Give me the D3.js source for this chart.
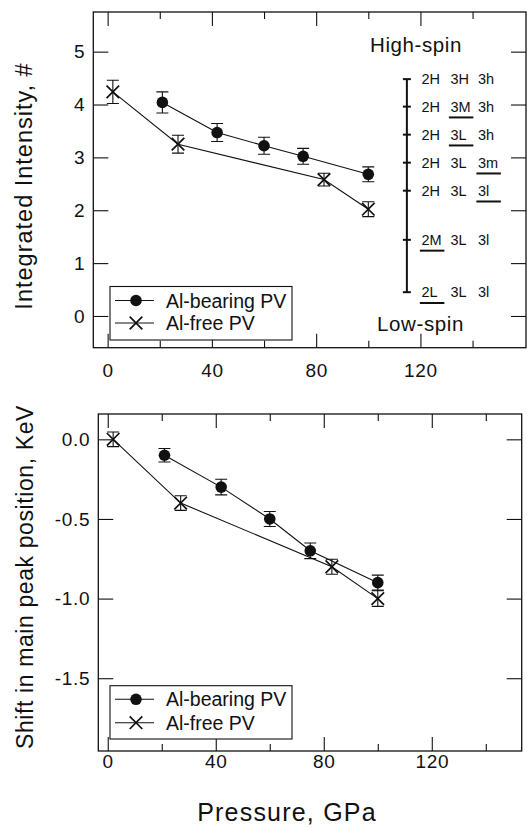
<!DOCTYPE html>
<html>
<head>
<meta charset="utf-8">
<script src="https://cdn.jsdelivr.net/npm/d3@7"></script>
<style>
  body { margin: 0; background: #fff; }
  svg { display: block; }
  text { font-family: "Liberation Sans", Arial, Helvetica, sans-serif; fill: #111; }
</style>
</head>
<body>
<svg id="chart" width="527" height="828"></svg>
<script>
// top panel: integrated intensity
const pressureAlBearing = [21, 42, 60, 75, 100];
const intensityAlBearing = [4.04, 3.47, 3.22, 3.02, 2.68];
const intensityAlBearingErr = [0.2, 0.17, 0.16, 0.15, 0.14];
const pressureAlFree = [2, 27, 83, 100];
const intensityAlFree = [4.24, 3.25, 2.58, 2.02];
const intensityAlFreeErr = [0.22, 0.17, 0.12, 0.14];

// bottom panel: shift in main peak position
const shiftAlBearing = [-0.1, -0.3, -0.5, -0.7, -0.9];
const shiftAlBearingErr = [0.042, 0.049, 0.047, 0.049, 0.047];
const shiftAlFree = [0, -0.4, -0.8, -1.0];
const shiftAlFreeErr = [0.046, 0.046, 0.047, 0.049];

// spin-state scale drawn inside the top panel
const spinLevels = [4.48, 3.96, 3.43, 2.9, 2.37, 1.44, 0.45];
const spinLabels = [
  ['2H', '3H', '3h'],
  ['2H', '3M', '3h'],
  ['2H', '3L', '3h'],
  ['2H', '3L', '3m'],
  ['2H', '3L', '3l'],
  ['2M', '3L', '3l'],
  ['2L', '3L', '3l'],
];
const spinUnderlined = [-1, 1, 1, 2, 2, 0, 0];

const xMajorTicks = [0, 40, 80, 120];
const xMinorTicks = [20, 60, 100, 140];
const intensityTicks = [0, 1, 2, 3, 4, 5];
const shiftTicks = [0, -0.5, -1.0, -1.5];
const seriesNames = ['Al-bearing PV', 'Al-free PV'];

const INK = '#111';
const svg = d3.select('#chart');

function drawCircle(g, cx, cy) {
  g.append('circle').attr('cx', cx).attr('cy', cy).attr('r', 5.8).attr('fill', INK);
}

function drawCross(g, cx, cy) {
  const s = 6.3;
  g.append('path')
    .attr('d', `M${cx - s},${cy - s}L${cx + s},${cy + s}M${cx - s},${cy + s}L${cx + s},${cy - s}`)
    .attr('stroke', INK).attr('stroke-width', 1.7).attr('fill', 'none');
}

function drawSeries(g, x, y, xs, ys, errs, marker) {
  const line = d3.line().x((d, i) => x(xs[i])).y((d) => y(d));
  g.append('path').attr('d', line(ys))
    .attr('fill', 'none').attr('stroke', INK).attr('stroke-width', 1.1);
  ys.forEach((v, i) => {
    const px = x(xs[i]);
    const y0 = y(v - errs[i]);
    const y1 = y(v + errs[i]);
    g.append('path')
      .attr('d', `M${px},${y0}V${y1}M${px - 6},${y0}H${px + 6}M${px - 6},${y1}H${px + 6}`)
      .attr('stroke', INK).attr('stroke-width', 1.1).attr('fill', 'none');
    marker(g, px, y(v));
  });
}

function drawLegend(g, box) {
  g.append('rect')
    .attr('x', box.x).attr('y', box.y).attr('width', box.w).attr('height', box.h)
    .attr('fill', '#fff').attr('stroke', INK).attr('stroke-width', 1.1);
  [drawCircle, drawCross].forEach((marker, i) => {
    const cy = box.y + box.row0 + i * box.rowStep;
    g.append('line')
      .attr('x1', box.x + 5).attr('x2', box.x + 44).attr('y1', cy).attr('y2', cy)
      .attr('stroke', INK).attr('stroke-width', 1.1);
    marker(g, box.x + 26, cy);
    g.append('text')
      .attr('x', box.x + 56).attr('y', cy).attr('dy', '0.36em')
      .attr('font-size', 19.5)
      .text(seriesNames[i]);
  });
}

function drawPanel(cfg) {
  const x = d3.scaleLinear().domain(cfg.xDomain).range([cfg.left, cfg.right]);
  const y = d3.scaleLinear().domain(cfg.yDomain).range([cfg.bottom, cfg.top]);
  const g = svg.append('g');

  const styleAxis = (sel) => {
    sel.attr('font-size', null).attr('font-family', null);
    sel.select('.domain').remove();
    sel.selectAll('line').attr('stroke', INK).attr('stroke-width', 1.1);
    sel.selectAll('text').attr('font-size', 19).attr('letter-spacing', '0.7px').attr('fill', INK);
  };

  g.append('g').attr('transform', `translate(0,${cfg.bottom})`)
    .call(d3.axisBottom(x).tickValues(xMajorTicks).tickSize(-14).tickPadding(cfg.xPad))
    .call(styleAxis);
  g.append('g').attr('transform', `translate(0,${cfg.bottom})`)
    .call(d3.axisBottom(x).tickValues(xMinorTicks).tickSize(-7).tickFormat(''))
    .call(styleAxis);
  g.append('g').attr('transform', `translate(0,${cfg.top})`)
    .call(d3.axisTop(x).tickValues(xMajorTicks).tickSize(-14).tickFormat(''))
    .call(styleAxis);
  g.append('g').attr('transform', `translate(0,${cfg.top})`)
    .call(d3.axisTop(x).tickValues(xMinorTicks).tickSize(-7).tickFormat(''))
    .call(styleAxis);
  g.append('g').attr('transform', `translate(${cfg.left},0)`)
    .call(d3.axisLeft(y).tickValues(cfg.yTicks).tickSize(-15).tickPadding(8).tickFormat(cfg.yFormat))
    .call(styleAxis);
  g.append('g').attr('transform', `translate(${cfg.right},0)`)
    .call(d3.axisRight(y).tickValues(cfg.yTicks).tickSize(-15).tickFormat(''))
    .call(styleAxis);

  g.append('rect')
    .attr('x', cfg.left).attr('y', cfg.top)
    .attr('width', cfg.right - cfg.left).attr('height', cfg.bottom - cfg.top)
    .attr('fill', 'none').attr('stroke', INK).attr('stroke-width', 1.3);

  g.append('text')
    .attr('transform', `translate(${cfg.yTitleX},${cfg.yTitleY}) rotate(-90)`)
    .attr('text-anchor', 'middle')
    .attr('font-size', cfg.yTitleSize)
    .attr('letter-spacing', cfg.yTitleSpacing)
    .text(cfg.yTitle);

  drawSeries(g, x, y, pressureAlBearing, cfg.bearing, cfg.bearingErr, drawCircle);
  drawSeries(g, x, y, pressureAlFree, cfg.free, cfg.freeErr, drawCross);
  drawLegend(g, cfg.legend);
  return { g, x, y };
}

const intensityPanel = drawPanel({
  left: 93.3, right: 526, top: 12, bottom: 347.7,
  xDomain: [-5.5, 160.5], yDomain: [-0.6, 5.75],
  yTicks: intensityTicks, yFormat: d3.format('d'), xPad: 16,
  yTitle: 'Integrated Intensity, #', yTitleX: 32, yTitleY: 186,
  yTitleSize: 23.5, yTitleSpacing: '1px',
  bearing: intensityAlBearing, bearingErr: intensityAlBearingErr,
  free: intensityAlFree, freeErr: intensityAlFreeErr,
  legend: { x: 110, y: 286.5, w: 182, h: 53.5, row0: 14, rowStep: 22.5 },
});

drawPanel({
  left: 98.3, right: 521.7, top: 414, bottom: 751,
  xDomain: [-3.5, 153.3], yDomain: [-1.957, 0.159],
  yTicks: shiftTicks, yFormat: (d) => d.toFixed(1), xPad: 3,
  yTitle: 'Shift in main peak position, KeV', yTitleX: 33, yTitleY: 577,
  yTitleSize: 23, yTitleSpacing: '0.6px',
  bearing: shiftAlBearing, bearingErr: shiftAlBearingErr,
  free: shiftAlFree, freeErr: shiftAlFreeErr,
  legend: { x: 110, y: 685.7, w: 182, h: 53.3, row0: 13.6, rowStep: 23.4 },
});

// spin-state ladder
const sx = intensityPanel.x(114.8);
const sy = intensityPanel.y;
const sg = intensityPanel.g.append('g');
sg.append('line')
  .attr('x1', sx).attr('x2', sx)
  .attr('y1', sy(d3.max(spinLevels))).attr('y2', sy(d3.min(spinLevels)))
  .attr('stroke', INK).attr('stroke-width', 2);
const colOffsets = [14.5, 43.5, 71];
spinLevels.forEach((lv, i) => {
  const py = sy(lv);
  sg.append('line').attr('x1', sx - 4).attr('x2', sx + 4).attr('y1', py).attr('y2', py)
    .attr('stroke', INK).attr('stroke-width', 2);
  spinLabels[i].forEach((lab, j) => {
    sg.append('text')
      .attr('x', sx + colOffsets[j]).attr('y', py).attr('dy', '0.36em')
      .attr('font-size', 14.5)
      .text(lab);
  });
  if (spinUnderlined[i] >= 0) {
    const ux = sx + colOffsets[spinUnderlined[i]] - 1.5;
    sg.append('line').attr('x1', ux).attr('x2', ux + 24.5)
      .attr('y1', py + 10.8).attr('y2', py + 10.8)
      .attr('stroke', INK).attr('stroke-width', 2);
  }
});
sg.append('text').attr('x', 416).attr('y', 51.7).attr('text-anchor', 'middle')
  .attr('font-size', 20.5).attr('letter-spacing', '0.6px').text('High-spin');
sg.append('text').attr('x', 420.5).attr('y', 331).attr('text-anchor', 'middle')
  .attr('font-size', 20.5).attr('letter-spacing', '0.6px').text('Low-spin');

svg.append('text')
  .attr('x', 287).attr('y', 821).attr('text-anchor', 'middle')
  .attr('font-size', 25).attr('letter-spacing', '1.2px')
  .text('Pressure, GPa');
</script>
</body>
</html>
